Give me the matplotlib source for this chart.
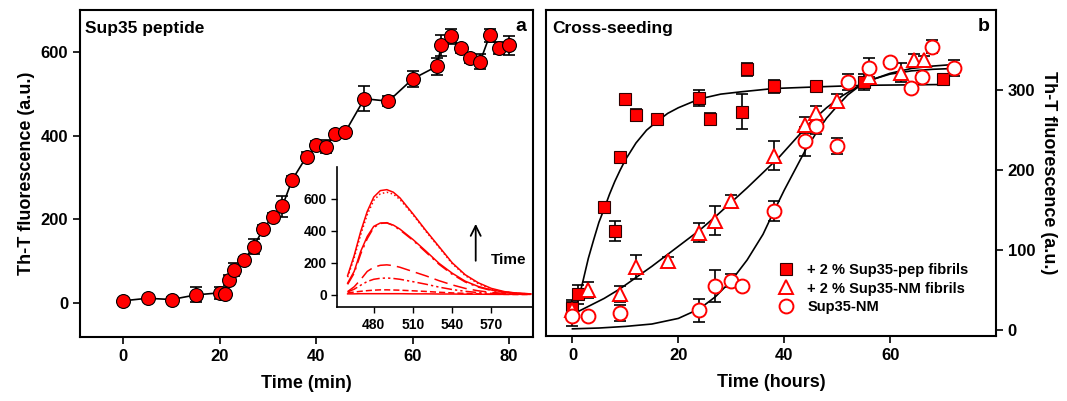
import matplotlib
matplotlib.use('Agg')
import matplotlib.pyplot as plt

plt.rcParams['font.family'] = ['Liberation Sans', 'DejaVu Sans']
plt.rcParams['font.weight'] = 'bold'

# panel a: Sup35 peptide kinetics
t_min = [0, 5, 10, 15, 20, 21, 22, 23, 25, 27, 29, 31, 33, 35, 38, 40, 42, 44, 46,
         50, 55, 60, 65, 66, 68, 70, 72, 74, 76, 78, 80]
f_pep = [6, 12, 9, 20, 25, 22, 56, 80, 103, 135, 177, 207, 232, 294, 350, 377, 374, 404, 408,
         488, 482, 535, 565, 615, 637, 608, 584, 576, 639, 609, 615]
e_pep = [4, 5, 5, 18, 14, 8, 12, 15, 8, 18, 10, 8, 25, 10, 10, 10, 15, 8, 5,
         30, 12, 18, 20, 25, 18, 10, 10, 18, 15, 15, 22]

# inset: emission spectra
wl = [460, 465, 470, 475, 480, 485, 490, 495, 500, 510, 520, 530, 540, 550, 560, 570, 580, 590, 600]
spec_1 = [120, 245, 395, 520, 610, 650, 656, 640, 605, 505, 400, 300, 200, 125, 75, 40, 20, 10, 6]
spec_2 = [110, 230, 375, 500, 590, 630, 640, 628, 595, 500, 395, 295, 195, 120, 70, 36, 18, 9, 5]
spec_3 = [65, 135, 255, 350, 420, 445, 450, 432, 405, 340, 265, 190, 128, 80, 48, 27, 15, 9, 5]
spec_4 = [73, 146, 271, 364, 427, 448, 448, 435, 410, 345, 272, 196, 135, 85, 52, 30, 17, 10, 6]
spec_5 = [20, 50, 95, 146, 172, 184, 187, 182, 172, 145, 118, 88, 62, 40, 25, 15, 9, 6, 4]
spec_6 = [18, 35, 60, 83, 97, 103, 105, 102, 97, 82, 66, 48, 33, 22, 14, 9, 6, 4, 3]
spec_7 = [12, 17, 22, 26, 29, 31, 31, 30, 29, 25, 21, 16, 12, 9, 6, 4, 3, 2, 2]
spec_8 = [6, 6, 7, 7, 7, 7, 7, 7, 7, 6, 6, 5, 5, 4, 4, 3, 3, 3, 3]

# panel b: cross-seeding
t_sq = [0, 1, 6, 8, 9, 10, 12, 16, 24, 26, 32, 33, 38, 46, 55, 70]
f_sq = [28, 45, 154, 124, 216, 289, 269, 264, 290, 264, 273, 326, 305, 305, 310, 314]
e_sq = [10, 12, 4, 12, 6, 5, 7, 4, 10, 8, 22, 8, 8, 4, 10, 4]

t_tri = [0, 3, 9, 12, 18, 24, 27, 30, 38, 44, 46, 50, 56, 62, 64.5, 66.5]
f_tri = [25, 51, 46, 79, 87, 122, 137, 161, 218, 257, 272, 287, 316, 322, 337, 337]
e_tri = [10, 10, 10, 15, 5, 12, 18, 8, 18, 10, 8, 8, 10, 12, 8, 5]

t_circ = [0, 3, 9, 24, 27, 30, 32, 38, 44, 46, 50, 52, 56, 60, 64, 66, 68, 72]
f_circ = [18, 18, 22, 25, 56, 62, 55, 149, 236, 255, 230, 310, 328, 335, 303, 317, 354, 328]
e_circ = [12, 3, 10, 14, 20, 8, 4, 12, 18, 10, 10, 10, 12, 4, 4, 4, 8, 10]

# fitted curves
fit_sq_t = [1, 2, 3, 4, 5, 6, 7, 8, 9, 10, 12, 14, 16, 18, 20, 24, 28, 32, 38, 46, 55, 70]
fit_sq_f = [35, 62, 90, 113, 135, 152, 170, 186, 200, 213, 234, 250, 261, 271, 278, 289, 295, 298, 302, 304, 306, 307]
fit_tri_t = [0, 3, 6, 9, 12, 15, 18, 21, 24, 27, 30, 33, 36, 39, 42, 45, 48, 51, 54, 57, 60, 64, 68, 72]
fit_tri_f = [20, 30, 40, 52, 66, 80, 95, 110, 125, 142, 160, 178, 197, 216, 238, 260, 278, 293, 305, 314, 321, 327, 330, 332]
fit_circ_t = [0, 5, 10, 15, 20, 24, 27, 30, 33, 36, 38, 40, 42, 44, 46, 48, 50, 52, 54, 56, 60, 64, 68, 72]
fit_circ_f = [2, 3, 5, 8, 15, 27, 42, 62, 88, 120, 148, 175, 200, 225, 246, 265, 280, 294, 304, 312, 320, 324, 326, 327]

fig = plt.figure(figsize=(10.67, 4.01), dpi=100)
ax1 = fig.add_axes([0.075, 0.160, 0.4246, 0.8155])
ax2 = fig.add_axes([0.5117, 0.162, 0.4217, 0.813])
axi = fig.add_axes([0.316, 0.234, 0.1825, 0.3506])

tick_fs = 12
lab_fs = 13

# --- panel a
ax1.errorbar(t_min, f_pep, yerr=e_pep, fmt='none', ecolor='black', elinewidth=1.2, capsize=4, capthick=1.2, zorder=2)
ax1.plot(t_min, f_pep, '-', color='black', lw=1.2, zorder=3)
ax1.plot(t_min, f_pep, 'o', mfc='red', mec='black', mew=0.8, ms=10, zorder=4)
ax1.set_xlim(-9, 85)
ax1.set_ylim(-80, 700)
ax1.set_xticks([0, 20, 40, 60, 80])
ax1.set_yticks([0, 200, 400, 600])
ax1.tick_params(direction='out', length=5, width=1.2, labelsize=tick_fs, top=False, right=False)
ax1.set_xlabel('Time (min)', fontsize=lab_fs, fontweight='bold', labelpad=8)
ax1.set_ylabel('Th-T fluorescence (a.u.)', fontsize=lab_fs, fontweight='bold')
ax1.text(0.012, 0.965, 'Sup35 peptide', transform=ax1.transAxes, fontsize=12.5, fontweight='bold', va='top', ha='left')
ax1.text(0.985, 0.975, 'a', transform=ax1.transAxes, fontsize=14, fontweight='bold', va='top', ha='right')
for s in ax1.spines.values():
    s.set_linewidth(1.5)

# --- inset
lw_i = 1.1
axi.plot(wl, spec_1, '-', color='red', lw=lw_i)
axi.plot(wl, spec_2, ':', color='red', lw=lw_i)
axi.plot(wl, spec_3, color='red', lw=lw_i, dashes=(8, 3, 1.5, 3))
axi.plot(wl, spec_4, '-', color='red', lw=lw_i)
axi.plot(wl, spec_5, color='red', lw=lw_i, dashes=(9, 4))
axi.plot(wl, spec_6, color='red', lw=lw_i, dashes=(7, 2, 1.5, 2, 1.5, 2))
axi.plot(wl, spec_7, color='red', lw=lw_i, dashes=(4, 2))
axi.plot(wl, spec_8, '-', color='red', lw=lw_i)
axi.set_xlim(452, 601)
axi.set_ylim(-77, 800)
axi.set_xticks([480, 510, 540, 570])
axi.set_yticks([0, 200, 400, 600])
axi.tick_params(direction='out', length=4, width=1, labelsize=10)
axi.spines['top'].set_visible(False)
axi.spines['right'].set_visible(False)
axi.spines['left'].set_linewidth(1.2)
axi.spines['bottom'].set_linewidth(1.2)
axi.patch.set_alpha(0)
axi.annotate('', xy=(558, 460), xytext=(558, 195),
             arrowprops=dict(arrowstyle='->', color='black', lw=1.3, mutation_scale=18))
axi.text(583, 220, 'Time', fontsize=11, fontweight='bold', ha='center', va='center')

# --- panel b
ax2.plot(fit_sq_t, fit_sq_f, '-', color='black', lw=1.2, zorder=2)
ax2.plot(fit_tri_t, fit_tri_f, '-', color='black', lw=1.2, zorder=2)
ax2.plot(fit_circ_t, fit_circ_f, '-', color='black', lw=1.2, zorder=2)
for tt, ff, ee in [(t_sq, f_sq, e_sq), (t_tri, f_tri, e_tri), (t_circ, f_circ, e_circ)]:
    ax2.errorbar(tt, ff, yerr=ee, fmt='none', ecolor='black', elinewidth=1.2, capsize=4, capthick=1.2, zorder=3)
ax2.plot(t_sq, f_sq, 's', mfc='red', mec='#300000', mew=0.8, ms=8.5, zorder=4,
         label='+ 2 % Sup35-pep fibrils')
ax2.plot(t_tri, f_tri, '^', mfc='white', mec='red', mew=1.4, ms=9.5, zorder=5,
         label='+ 2 % Sup35-NM fibrils')
ax2.plot(t_circ, f_circ, 'o', mfc='white', mec='red', mew=1.4, ms=10, zorder=6,
         label='Sup35-NM')
ax2.set_xlim(-5, 80)
ax2.set_ylim(-7, 400)
ax2.set_xticks([0, 20, 40, 60])
ax2.set_yticks([0, 100, 200, 300])
ax2.yaxis.tick_right()
ax2.yaxis.set_label_position('right')
ax2.tick_params(direction='out', length=5, width=1.2, labelsize=tick_fs)
ax2.tick_params(axis='y', left=False, right=True)
ax2.set_xlabel('Time (hours)', fontsize=lab_fs, fontweight='bold', labelpad=8)
ax2.set_ylabel('Th-T fluorescence (a.u.)', fontsize=lab_fs, fontweight='bold', rotation=270, labelpad=16)
ax2.text(0.015, 0.965, 'Cross-seeding', transform=ax2.transAxes, fontsize=12.5, fontweight='bold', va='top', ha='left')
ax2.text(0.985, 0.975, 'b', transform=ax2.transAxes, fontsize=14, fontweight='bold', va='top', ha='right')
for s in ax2.spines.values():
    s.set_linewidth(1.5)
ax2.legend(loc='lower left', bbox_to_anchor=(0.5, 0.05), frameon=False, fontsize=10.5,
           handletextpad=0.9, labelspacing=0.3, borderaxespad=0, handlelength=1.2)

fig.savefig('out.png', dpi=100)
